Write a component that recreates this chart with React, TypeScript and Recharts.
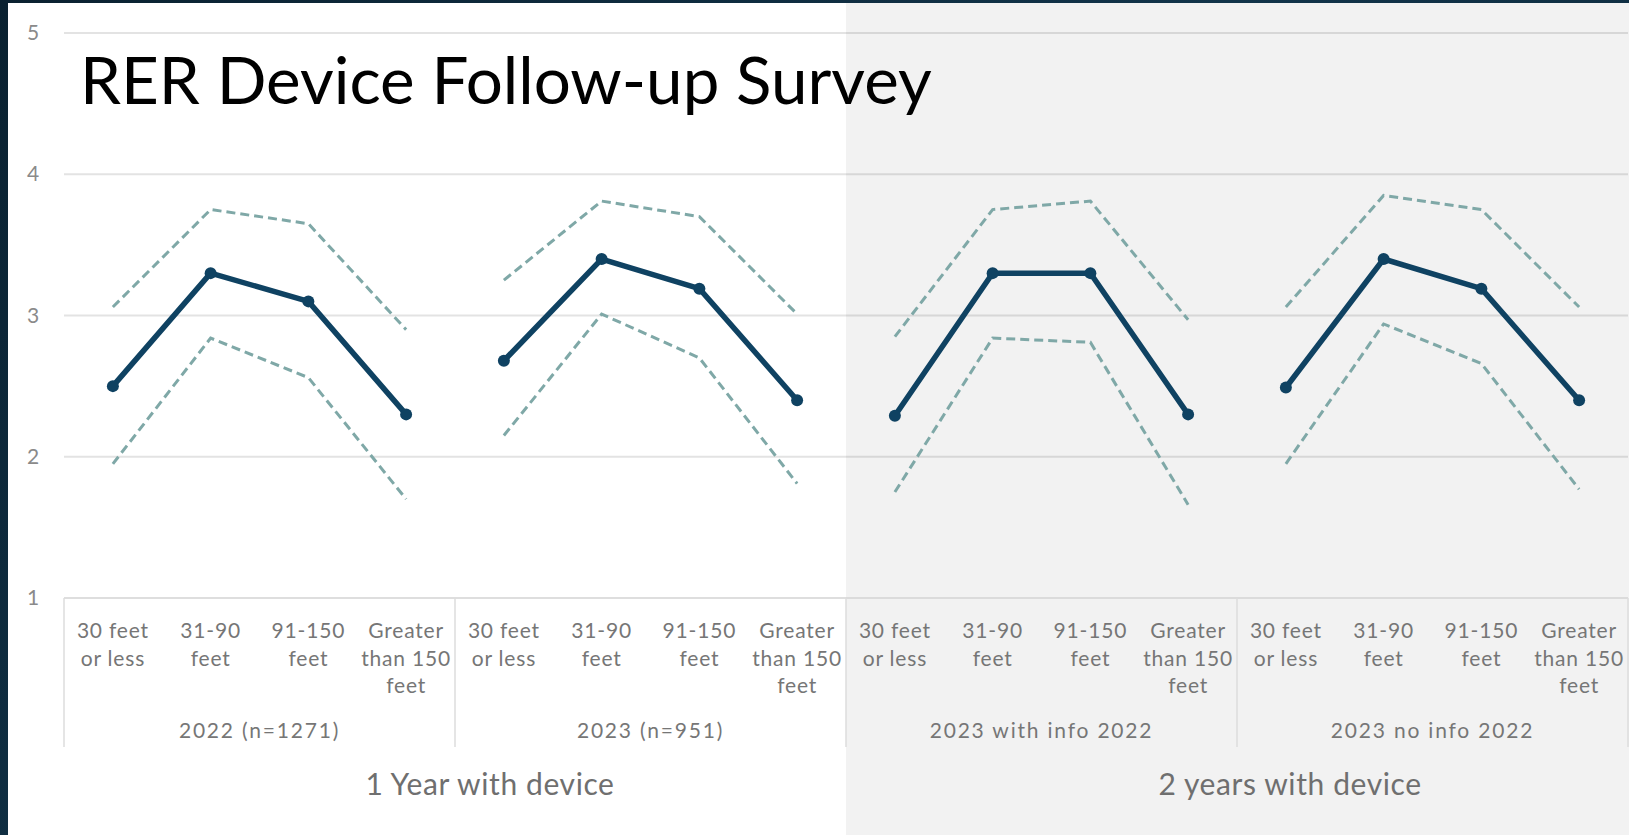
import React from 'react';
import { LineChart, Line, XAxis, YAxis, CartesianGrid, ReferenceArea } from 'recharts';

// survey groups, distance categories and the two period headers
const groups = ['2022 (n=1271)', '2023 (n=951)', '2023 with info 2022', '2023 no info 2022'];
const distances = ['30 feet or less', '31-90 feet', '91-150 feet', 'Greater than 150 feet'];
const distanceLines = [['30 feet', 'or less'], ['31-90', 'feet'], ['91-150', 'feet'], ['Greater', 'than 150', 'feet']];
const periods = ['1 Year with device', '2 years with device'];
const yTicks = [1, 2, 3, 4, 5];

// mean score and confidence band per group, one value per distance
const meanScore = [
  [2.5, 3.3, 3.1, 2.3],
  [2.68, 3.4, 3.19, 2.4],
  [2.29, 3.3, 3.3, 2.3],
  [2.49, 3.4, 3.19, 2.4],
];
const upperBound = [
  [3.06, 3.75, 3.65, 2.9],
  [3.25, 3.81, 3.7, 3.01],
  [2.85, 3.75, 3.81, 2.97],
  [3.06, 3.85, 3.75, 3.06],
];
const lowerBound = [
  [1.95, 2.84, 2.56, 1.7],
  [2.15, 3.01, 2.7, 1.81],
  [1.75, 2.84, 2.81, 1.66],
  [1.95, 2.94, 2.66, 1.77],
];

const rows = groups.flatMap((g, gi) =>
  distances.map((d, di) => ({
    key: `${gi}-${di}`,
    group: g,
    distance: d,
    [`mean${gi}`]: meanScore[gi][di],
    [`upper${gi}`]: upperBound[gi][di],
    [`lower${gi}`]: lowerBound[gi][di],
  }))
);

const CHART_W = 1621;
const CHART_H = 832;
const MARGIN = { top: 30, right: 1, left: 0, bottom: 0 };
const Y_W = 56;
const PLOT_H = 565;
const BAND = (CHART_W - Y_W - MARGIN.right) / rows.length;

const FONT = 'Lato, "Open Sans", sans-serif';
const NAVY = '#0f4262';
const BAND_COLOR = '#7fa8a7';
const LINE_GRAY = '#dcdcdc';
const LABEL_GRAY = '#767676';

const periodShift = [35, 53];

const DistanceTick = (props: any) => {
  const { x, y, payload } = props;
  const index = payload.index;
  const di = index % 4;
  const gi = Math.floor(index / 4);
  const left = x - BAND / 2;
  return (
    <g>
      <text x={x} y={y + 40} textAnchor="middle" fontSize={21} letterSpacing={0.8} fill={LABEL_GRAY} fontFamily={FONT}>
        {distanceLines[di].map((l, i) => (
          <tspan key={i} x={x} dy={i === 0 ? 0 : 27.5}>
            {l}
          </tspan>
        ))}
      </text>
      {di === 0 && (
        <>
          <line x1={left} x2={left} y1={y} y2={y + 149} stroke={LINE_GRAY} strokeWidth={1.5} />
          <text
            x={x + BAND * 1.5}
            y={y + 140}
            textAnchor="middle"
            fontSize={21}
            letterSpacing={1.8}
            fill={LABEL_GRAY}
            fontFamily={FONT}
          >
            {groups[gi]}
          </text>
        </>
      )}
      {di === 0 && gi % 2 === 0 && (
        <text
          x={x + BAND * 3.5 + periodShift[gi / 2]}
          y={y + 197}
          textAnchor="middle"
          fontSize={30}
          letterSpacing={0.6}
          fill="#6f6f6f"
          fontFamily={FONT}
        >
          {periods[gi / 2]}
        </text>
      )}
      {index === rows.length - 1 && (
        <line x1={x + BAND / 2} x2={x + BAND / 2} y1={y} y2={y + 149} stroke={LINE_GRAY} strokeWidth={1.5} />
      )}
    </g>
  );
};

const ScoreTick = (props: any) => {
  const { x, y, payload } = props;
  return (
    <text x={x - 31} y={y} dy={7} textAnchor="middle" fontSize={21} fill="#8a8a8a" fontFamily={FONT}>
      {payload.value}
    </text>
  );
};

// translucent so the grid stays visible through the shaded half
const GrayPanel = (props: any) => (
  <rect x={props.x} y={0} width={CHART_W - props.x} height={CHART_H} fill="#000000" fillOpacity={0.052} />
);

const App: React.FC = () => {
  return (
    <div
      style={{
        position: 'absolute',
        left: 0,
        top: 0,
        width: 1629,
        height: 835,
        background: 'linear-gradient(135deg, #0a2130 0%, #12344a 50%, #0b2535 100%)',
        overflow: 'hidden',
      }}
    >
      <div style={{ position: 'absolute', left: 8, top: 3, width: CHART_W, height: CHART_H, background: '#ffffff' }}>
        <LineChart width={CHART_W} height={CHART_H} data={rows} margin={MARGIN}>
          <ReferenceArea x1="2-0" x2="3-3" ifOverflow="visible" shape={GrayPanel} />
          <CartesianGrid vertical={false} stroke="#e3e3e3" strokeWidth={2} />
          <XAxis
            dataKey="key"
            scale="band"
            interval={0}
            tickLine={false}
            tickSize={0}
            tickMargin={0}
            axisLine={{ stroke: LINE_GRAY, strokeWidth: 1.5 }}
            height={CHART_H - MARGIN.top - PLOT_H}
            tick={<DistanceTick />}
          />
          <YAxis
            domain={[1, 5]}
            ticks={yTicks}
            width={Y_W}
            axisLine={false}
            tickLine={false}
            tickSize={0}
            tickMargin={0}
            tick={<ScoreTick />}
          />
          {groups.map((g, gi) => (
            <React.Fragment key={g}>
              <Line
                dataKey={`upper${gi}`}
                stroke={BAND_COLOR}
                strokeWidth={3}
                strokeDasharray="9 5"
                dot={false}
                isAnimationActive={false}
              />
              <Line
                dataKey={`lower${gi}`}
                stroke={BAND_COLOR}
                strokeWidth={3}
                strokeDasharray="9 5"
                dot={false}
                isAnimationActive={false}
              />
              <Line
                dataKey={`mean${gi}`}
                stroke={NAVY}
                strokeWidth={5.5}
                dot={{ r: 6, fill: NAVY, stroke: NAVY, strokeWidth: 0 }}
                isAnimationActive={false}
              />
            </React.Fragment>
          ))}
        </LineChart>
      </div>
      <svg width={1629} height={835} style={{ position: 'absolute', left: 0, top: 0, pointerEvents: 'none' }}>
        <text x={80} y={104} fontSize={65.5} fill="#000000" fontFamily={FONT}>
          RER Device Follow-up Survey
        </text>
      </svg>
    </div>
  );
};

export default App;
